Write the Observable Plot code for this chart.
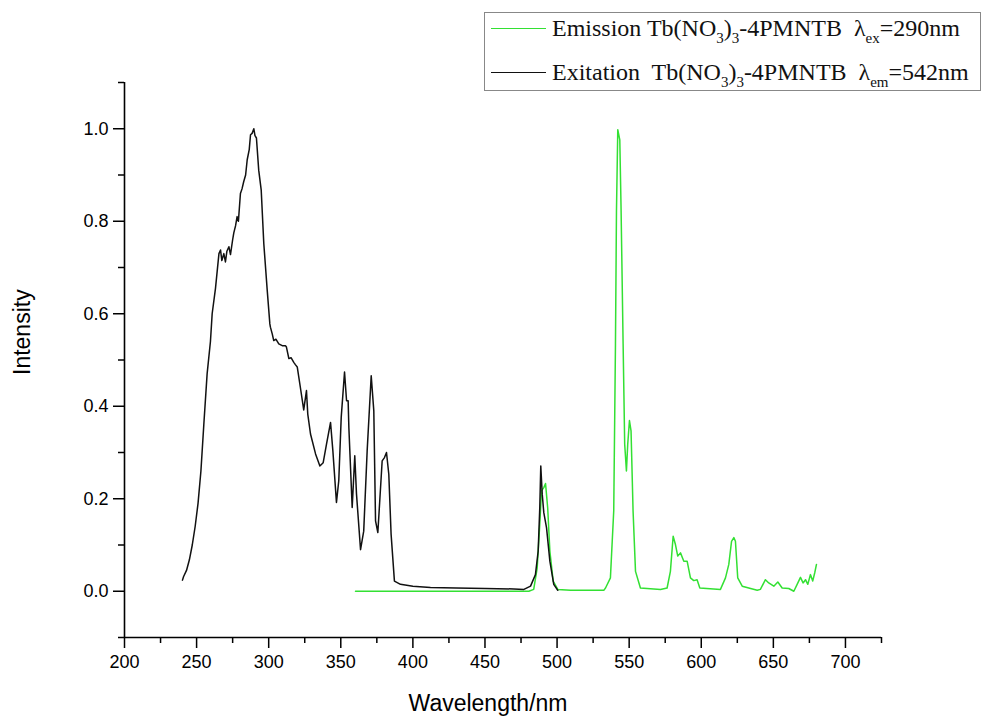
<!DOCTYPE html>
<html><head><meta charset="utf-8">
<script src="https://cdn.jsdelivr.net/npm/d3@7"></script>
<script src="https://cdn.jsdelivr.net/npm/@observablehq/plot@0.6"></script>
<style>
body{margin:0;background:#fff;}
#wrap{position:relative;width:983px;height:725px;}
.legend{position:absolute;left:484px;top:12px;width:497px;height:79px;border:1.5px solid #888;box-sizing:border-box;font-family:"Liberation Serif","Times New Roman",serif;font-size:24px;color:#111;background:#fff;}
.sw{position:absolute;left:6px;width:55px;height:0;}
.lab{position:absolute;left:67px;white-space:pre;line-height:24px;}
sub{font-size:15px;vertical-align:-7px;line-height:0;}
</style></head>
<body>
<div id="wrap"></div>
<script>
// Excitation spectrum (black), λem = 542 nm
const exWavelength = [240.2,241,243,245,247,249,251,253,255,257.3,259.6,260.8,263.1,264.7,265.5,266.6,267.5,268.9,270,271,272.4,273.5,275,275.8,277,278.1,279,280.4,281.5,282.7,284,285.1,286.5,287.4,288.5,289.7,290.5,291.5,293.1,294.8,296.6,299,300.8,301.2,302.5,303.5,305,307,309.4,311.6,312.3,314,315.5,317.4,318.5,319.8,322,324.3,326.2,327.1,329,332.5,335.5,337.8,340.1,342.9,344.5,347,348.6,350.3,352.6,354,355.1,355.6,357.9,359.7,360.9,363.7,365.9,368.3,371.1,372.9,374.1,375.7,378.7,380.3,381.7,383.3,384.9,387.2,391.4,400,412.2,430,450,470,477,481.6,485,486.9,488,488.7,489.7,490.8,492.7,495,497.7,500.5];
const exIntensity = [0.024,0.032,0.045,0.068,0.10,0.14,0.19,0.26,0.36,0.47,0.54,0.60,0.655,0.705,0.73,0.738,0.715,0.73,0.712,0.735,0.745,0.728,0.76,0.775,0.79,0.81,0.80,0.86,0.87,0.886,0.90,0.933,0.955,0.987,0.99,1.0,0.985,0.98,0.91,0.868,0.752,0.65,0.578,0.571,0.556,0.542,0.545,0.535,0.531,0.531,0.528,0.503,0.505,0.495,0.49,0.485,0.44,0.392,0.434,0.383,0.34,0.297,0.271,0.278,0.318,0.365,0.304,0.192,0.239,0.376,0.474,0.412,0.412,0.354,0.181,0.293,0.21,0.09,0.13,0.304,0.466,0.39,0.152,0.127,0.282,0.289,0.30,0.253,0.123,0.022,0.015,0.011,0.008,0.007,0.006,0.005,0.004,0.011,0.036,0.087,0.18,0.271,0.21,0.17,0.137,0.065,0.015,0.002];

// Emission spectrum (green), λex = 290 nm
const emWavelength = [360.2,400,440,480.4,483.8,486.2,488,489.2,490.8,492,493.5,495,497.3,500.5,509.3,532.4,533.6,537,539.3,540.5,541.2,542.1,543.5,544.4,545.8,546.9,548.1,549,550.2,551.3,552.7,554.4,557.8,571.7,576.3,578.6,580.5,582.1,583.7,585.6,587.9,590.2,592.5,594.8,597.1,599,613.3,616.8,619.1,621,622.6,623.7,625.3,628.4,638.8,641,644.5,646.8,650.3,653.1,656.1,660.7,664.2,666.5,668.8,670.6,672.3,673.9,675.7,677.3,678.7,679.9];
const emIntensity = [0.0,0.0,0.0,0.0,0.004,0.05,0.145,0.217,0.224,0.233,0.18,0.087,0.022,0.004,0.002,0.002,0.007,0.029,0.174,0.535,0.824,0.998,0.976,0.824,0.535,0.318,0.26,0.318,0.369,0.347,0.174,0.043,0.007,0.004,0.007,0.043,0.119,0.101,0.076,0.083,0.065,0.065,0.029,0.023,0.025,0.007,0.004,0.029,0.058,0.108,0.116,0.108,0.029,0.011,0.002,0.004,0.025,0.018,0.011,0.02,0.007,0.006,0.0,0.015,0.03,0.018,0.025,0.015,0.036,0.022,0.04,0.058];

const xMajor = [200,250,300,350,400,450,500,550,600,650,700];
const xMinor = [225,275,325,375,425,475,525,575,625,675,725];
const yMajor = [0.0,0.2,0.4,0.6,0.8,1.0];
const yMinor = [-0.1,0.1,0.3,0.5,0.7,0.9,1.1];

const green = "#33e033";
const exData = exWavelength.map((w, i) => ({w, v: exIntensity[i]}));
const emData = emWavelength.map((w, i) => ({w, v: emIntensity[i]}));

const chart = Plot.plot({
  width: 983, height: 725,
  marginLeft: 124, marginRight: 102, marginTop: 82, marginBottom: 88,
  x: {domain: [200, 725], label: null},
  y: {domain: [-0.1, 1.1], label: null},
  style: {fontFamily: "'Liberation Sans', Arial, sans-serif", fontSize: "18px", color: "#000", background: "#fff", overflow: "visible"},
  marks: [
    Plot.line(emData, {x: "w", y: "v", stroke: green, strokeWidth: 1.5}),
    Plot.line(exData, {x: "w", y: "v", stroke: "#111", strokeWidth: 1.5}),
    Plot.ruleX([200], {stroke: "#000", strokeWidth: 1.6}),
    Plot.ruleY([-0.1], {stroke: "#000", strokeWidth: 1.6}),
    Plot.axisX({ticks: xMajor, tickSize: 11, tickPadding: 7, tickFormat: d => String(d), strokeWidth: 1.5, label: null, fontSize: 18}),
    Plot.axisX({ticks: xMinor, tickSize: 6, tickFormat: () => "", strokeWidth: 1.5, label: null}),
    Plot.axisY({ticks: yMajor, tickSize: 11, tickPadding: 5, tickFormat: d3.format(".1f"), strokeWidth: 1.5, label: null, fontSize: 18}),
    Plot.axisY({ticks: yMinor, tickSize: 6, tickFormat: () => "", strokeWidth: 1.5, label: null}),
    Plot.text(["Wavelength/nm"], {frameAnchor: "bottom", dy: 73, dx: -15, fontSize: 23, fill: "#000"}),
    Plot.text(["Intensity"], {frameAnchor: "left", dx: -102, dy: 15, rotate: -90, fontSize: 23, fill: "#000"})
  ]
});

const wrap = document.getElementById("wrap");
wrap.appendChild(chart);

const legend = document.createElement("div");
legend.className = "legend";
const rows = [
  {color: green, top: 15, html: "Emission Tb(NO<sub>3</sub>)<sub>3</sub>-4PMNTB  λ<sub>ex</sub>=290nm"},
  {color: "#111", top: 59, html: "Exitation  Tb(NO<sub>3</sub>)<sub>3</sub>-4PMNTB  λ<sub>em</sub>=542nm"}
];
rows.forEach(r => {
  const sw = document.createElement("div");
  sw.className = "sw";
  sw.style.top = r.top + "px";
  sw.style.borderTop = "1.5px solid " + r.color;
  legend.appendChild(sw);
  const lab = document.createElement("div");
  lab.className = "lab";
  lab.style.top = (r.top - 12) + "px";
  lab.innerHTML = r.html;
  legend.appendChild(lab);
});
wrap.appendChild(legend);
</script>
</body></html>
